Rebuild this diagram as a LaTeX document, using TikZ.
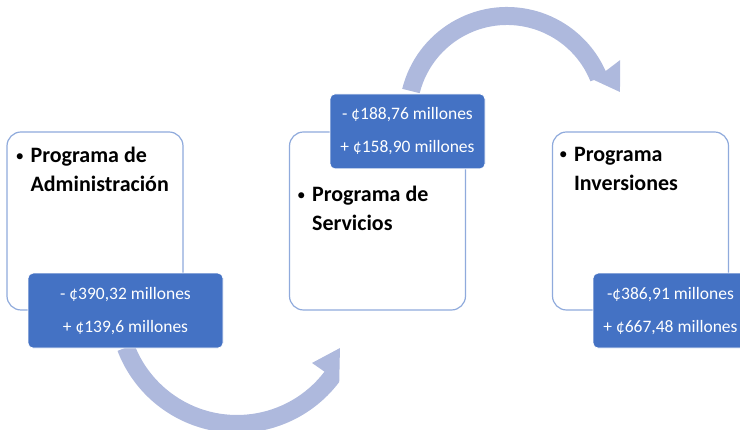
\documentclass[tikz,border=0pt]{standalone}
\usepackage{fontspec}
\setmainfont{Carlito}
\usepackage{xcolor}
\usepackage{tikz}
\usetikzlibrary{positioning,calc}
\definecolor{boxline}{HTML}{8FAADC}
\definecolor{valblue}{HTML}{4472C4}
\definecolor{flowcol}{HTML}{AEB9DD}
\newcommand{\bul}{\makebox[15pt][l]{\mdseries\fontsize{17}{17}\selectfont\raisebox{1.5pt}{•}}}

\begin{document}
\begin{tikzpicture}[x=1pt,y=1pt,
    prog/.style={draw=boxline,line width=1.2pt,rounded corners=14pt,fill=white,
      minimum width=176pt,minimum height=178pt,inner sep=0pt},
    val/.style={draw=white,line width=0.8pt,fill=valblue,rounded corners=5pt,
      minimum width=155pt,minimum height=75pt,inner sep=0pt,text=white,align=center,
      font=\fontsize{17.5}{33}\selectfont},
    title/.style={inner sep=0pt,align=left,font=\fontsize{22}{29}\selectfont\bfseries},
    flow/.style={fill=flowcol}]
    \clip (0,0) rectangle (740,430);
    \coordinate (low) at (237,125);
    \coordinate (high) at (507,315);
    \fill[flow] ([shift={(201:128)}]low) arc[start angle=201,end angle=323,radius=128]
      -- ([shift={(337.3:111.6)}]low) -- ([shift={(322.3:94.8)}]low)
      -- ([shift={(322.7:110)}]low) arc[start angle=322.7,end angle=201,radius=110] -- cycle;
    \fill[flow] ([shift={(166:108)}]high) arc[start angle=166,end angle=24,radius=108]
      -- ([shift={(25.9:125.7)}]high) -- ([shift={(11.5:115.3)}]high) -- ([shift={(21.9:93.8)}]high)
      -- ([shift={(22:90)}]high) arc[start angle=22,end angle=166,radius=90] -- cycle;
    \node[prog] (adm) at (95,209) {};
    \node[prog] (ser) at (377.5,209) {};
    \node[prog] (inv) at (640.5,209) {};
    \node[title,below right=15.5pt and 9pt of adm.north west] (adm-t)
      {\bul Programa de\\\hspace*{15pt}Administración};
    \node[title,below right=54.5pt and 8pt of ser.north west] (ser-t)
      {\bul Programa de\\\hspace*{15pt}Servicios};
    \node[title,below right=15.5pt and 7pt of inv.north west] (inv-t)
      {\bul Programa\\\hspace*{15pt}Inversiones};
    \node[val,minimum width=195pt] (adm-v) at ([xshift=30.5pt]adm.south)
      {- ¢390,32 millones\\+ ¢139,6 millones};
    \node[val] (ser-v) at ([xshift=30pt]ser.north)
      {- ¢188,76 millones\\+ ¢158,90 millones};
    \node[val] (inv-v) at ([xshift=30pt]inv.south)
      {-¢386,91 millones\\+ ¢667,48 millones};
\end{tikzpicture}
\end{document}
